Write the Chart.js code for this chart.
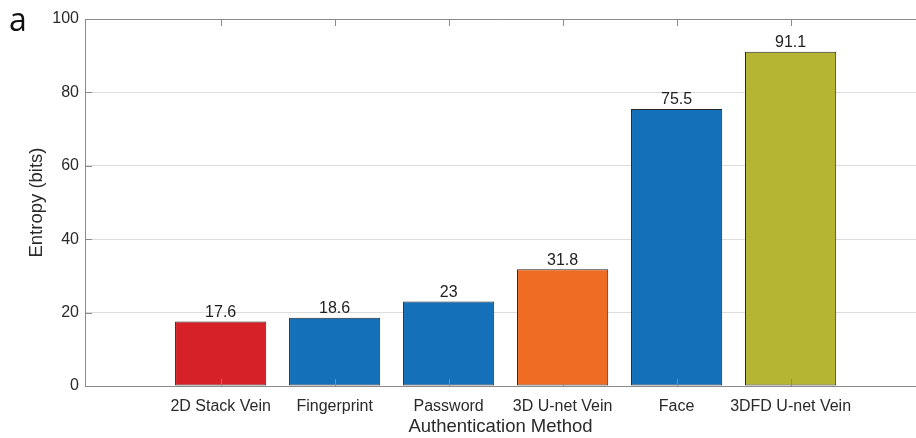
<!DOCTYPE html>
<html>
<head>
<meta charset="utf-8">
<script src="https://cdn.jsdelivr.net/npm/chart.js@4"></script>
<style>
  html, body { margin: 0; padding: 0; background: #fff; }
  #wrap { position: relative; width: 916px; height: 438px; }
  #panel { position: absolute; left: 9px; top: -3px; font: 32px "Open Sans", sans-serif; color: #111; }
</style>
</head>
<body>
<div id="wrap">
  <canvas id="bar-chart" width="916" height="438"></canvas>
  <div id="panel">a</div>
</div>
<script>
// Values
const methods = ["2D Stack Vein", "Fingerprint", "Password", "3D U-net Vein", "Face", "3DFD U-net Vein"];
const entropy = [17.6, 18.6, 23, 31.8, 75.5, 91.1];
const barColors = ['#d72128', '#1470b9', '#1470b9', '#ef6c24', '#1470b9', '#b6b533'];
const yTicks = [0, 20, 40, 60, 80, 100];

const axisGrey = '#8a8a8a';
const textGrey = '#2a2a2a';
const fontFam = '"Liberation Sans", Arial, sans-serif';

// labels above bars + matlab style inner tick marks
const decorations = {
  id: 'decorations',
  afterDatasetsDraw(chart) {
    const ctx = chart.ctx;
    const area = chart.chartArea;
    const xs = chart.scales.x, ys = chart.scales.y;
    ctx.save();
    ctx.strokeStyle = axisGrey;
    ctx.lineWidth = 1;
    ctx.beginPath();
    ctx.moveTo(area.left, area.top + 0.5);
    ctx.lineTo(area.right, area.top + 0.5);
    methods.forEach((m, i) => {
      const x = Math.round(xs.getPixelForValue(i + 1)) + 0.5;
      ctx.moveTo(x, area.top); ctx.lineTo(x, area.top + 7);
      ctx.moveTo(x, area.bottom); ctx.lineTo(x, area.bottom - 7);
    });
    yTicks.forEach(v => {
      const y = Math.round(ys.getPixelForValue(v)) + 0.5;
      ctx.moveTo(area.left, y); ctx.lineTo(area.left + 7, y);
    });
    ctx.stroke();

    ctx.fillStyle = '#222';
    ctx.font = '16px ' + fontFam;
    ctx.textAlign = 'center';
    ctx.textBaseline = 'bottom';
    chart.getDatasetMeta(0).data.forEach((bar, i) => {
      ctx.fillText(String(entropy[i]), bar.x, bar.y - 1);
    });
    ctx.restore();
  }
};

const ctx = document.getElementById('bar-chart').getContext('2d');
const barChart = new Chart(ctx, {
  type: 'bar',
  data: {
    datasets: [{
      data: entropy.map((v, i) => ({ x: i + 1, y: v })),
      backgroundColor: barColors,
      borderColor: '#262626',
      borderWidth: 1,
      borderSkipped: false,
      barPercentage: 0.8,
      categoryPercentage: 1.0
    }]
  },
  options: {
    responsive: false,
    animation: false,
    layout: { padding: { top: 19, right: 0, left: 0, bottom: 0 } },
    plugins: {
      legend: { display: false },
      tooltip: { enabled: false }
    },
    scales: {
      x: {
        type: 'linear',
        offset: false,
        min: -0.19,
        max: 7.1,
        afterBuildTicks: (scale) => {
          scale.ticks = methods.map((m, i) => ({ value: i + 1 }));
        },
        afterFit: (scale) => { scale.height = 52; },
        ticks: {
          callback: (v) => methods[v - 1] || '',
          color: textGrey,
          font: { family: fontFam, size: 16 },
          maxRotation: 0,
          autoSkip: false,
          padding: 3
        },
        grid: { display: false },
        border: { color: axisGrey },
        title: {
          display: true,
          text: 'Authentication Method',
          color: textGrey,
          font: { family: fontFam, size: 18.5 },
          padding: { top: 0, bottom: 0 }
        }
      },
      y: {
        min: 0,
        max: 100,
        afterBuildTicks: (scale) => {
          scale.ticks = yTicks.map(v => ({ value: v }));
        },
        afterFit: (scale) => { scale.width = 85; },
        ticks: {
          color: textGrey,
          font: { family: fontFam, size: 16 },
          padding: 6
        },
        grid: { color: '#dcdcdc', drawTicks: false },
        border: { color: axisGrey },
        title: {
          display: true,
          text: 'Entropy (bits)',
          color: textGrey,
          font: { family: fontFam, size: 18.5 },
          padding: { top: 26, bottom: 0 }
        }
      }
    }
  },
  plugins: [decorations]
});
</script>
</body>
</html>
